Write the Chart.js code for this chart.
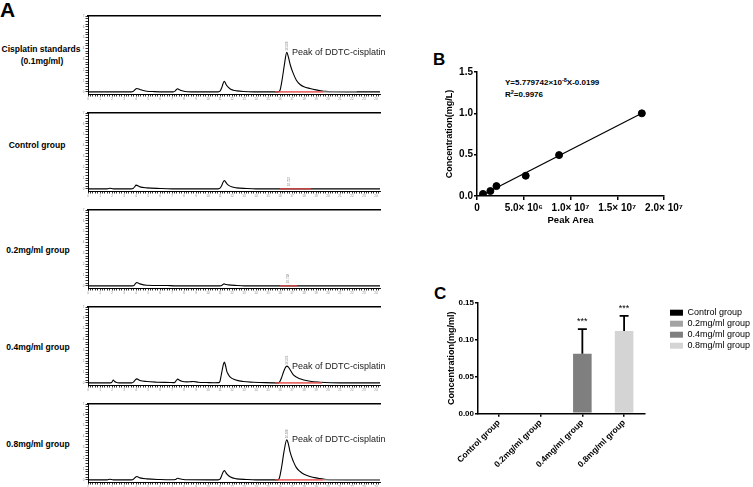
<!DOCTYPE html>
<html><head><meta charset="utf-8">
<script src="https://cdn.jsdelivr.net/npm/chart.js@4"></script>
<style>
html,body{margin:0;padding:0;background:#fff;width:753px;height:487px;overflow:hidden;font-family:Arial,"Liberation Sans",sans-serif;}
canvas{position:absolute;}
.lbl{position:absolute;font-weight:bold;color:#000;white-space:nowrap;line-height:1;}
.row{position:absolute;font-weight:bold;font-size:8.5px;line-height:1;color:#000;white-space:nowrap;text-align:center;width:120px;}
.eq{position:absolute;font-weight:bold;font-size:8px;line-height:1;color:#000;white-space:nowrap;}
.eq sup{font-size:5.5px;vertical-align:3px;line-height:0;}
</style></head><body>

<div class="lbl" style="left:0px;top:-1px;font-size:21px;">A</div>
<div class="lbl" style="left:433px;top:51px;font-size:17px;">B</div>
<div class="lbl" style="left:434px;top:285px;font-size:17px;">C</div>

<div class="row" style="left:-19px;top:45px;">Cisplatin standards</div>
<div class="row" style="left:-18px;top:57px;">(0.1mg/ml)</div>
<div class="row" style="left:-23px;top:141px;">Control group</div>
<div class="row" style="left:-22px;top:246px;">0.2mg/ml group</div>
<div class="row" style="left:-22px;top:343px;">0.4mg/ml group</div>
<div class="row" style="left:-22px;top:440px;">0.8mg/ml group</div>

<div class="eq" style="left:505px;top:79px;">Y=5.779742×10<sup>-8</sup>X-0.0199</div>
<div class="eq" style="left:505px;top:91px;">R<sup>2</sup>=0.9976</div>

<script>
Chart.defaults.font.family = 'Arial, "Liberation Sans", sans-serif';
Chart.defaults.color = '#000';

// ---------- Panel A: chromatograms (x: retention time, y: signal) ----------
const stdTrace = [[0,0],[1.5,0],[3.6,0],[3.78,0.06],[3.92,0.2],[4.06,0.31],[4.33,0.22],[4.6,0.13],[4.89,0.06],[5.5,0.02],[6.5,0],[7.1,0],[7.25,0.06],[7.36,0.2],[7.47,0.28],[7.6,0.2],[7.75,0.12],[8.08,0.03],[8.6,0],[10.85,0],[11.0,0.06],[11.14,0.37],[11.25,0.75],[11.36,0.98],[11.46,0.8],[11.56,0.58],[11.83,0.28],[12.1,0.15],[12.39,0.09],[12.94,0.03],[13.8,0],[15.85,0],[16.0,0.15],[16.2,1.3],[16.39,2.7],[16.56,3.66],[16.7,3.2],[16.85,2.5],[17.1,1.7],[17.35,1.1],[17.67,0.68],[18.0,0.47],[18.5,0.31],[19.0,0.18],[19.4,0.1],[19.8,0.04],[20.5,0.01],[21.5,0],[24.33,0]];
const ctrlTrace = [[0,0],[1.6,0],[1.83,0.06],[2.1,0],[3.6,0],[3.78,0.06],[3.9,0.2],[4.0,0.34],[4.33,0.18],[4.89,0.09],[6.0,0.03],[7.0,0],[10.85,0],[11.0,0.06],[11.14,0.31],[11.25,0.6],[11.36,0.77],[11.46,0.65],[11.56,0.49],[11.83,0.25],[12.39,0.09],[13.22,0.03],[14,0],[24.33,0]];
const g02Trace = [[0,0],[3.7,0],[3.83,0.03],[3.95,0.2],[4.06,0.31],[4.33,0.18],[4.89,0.06],[6.56,0.03],[7.2,0],[11.0,0],[11.14,0.03],[11.24,0.12],[11.33,0.18],[11.5,0.13],[11.69,0.09],[12.39,0.03],[13,0],[24.33,0]];
const g04Trace = [[0,0],[1.85,0],[1.97,0.03],[2.04,0.15],[2.11,0.25],[2.2,0.15],[2.33,0.06],[2.6,0],[3.65,0],[3.78,0.06],[3.92,0.25],[4.06,0.37],[4.33,0.22],[4.89,0.12],[5.72,0.06],[6.83,0.03],[7.1,0.02],[7.25,0.06],[7.36,0.22],[7.47,0.34],[7.62,0.24],[7.81,0.15],[8.22,0.09],[8.5,0.1],[8.78,0.12],[9.19,0.06],[9.89,0.03],[10.5,0.01],[10.9,0.02],[11.0,0.15],[11.1,0.7],[11.19,1.23],[11.28,1.7],[11.36,1.91],[11.46,1.6],[11.56,1.08],[11.68,0.8],[11.83,0.55],[12.25,0.28],[12.94,0.12],[13.78,0.06],[14.8,0.02],[15.85,0],[16.0,0.15],[16.15,0.55],[16.28,0.98],[16.42,1.35],[16.56,1.54],[16.7,1.45],[16.83,1.23],[17.11,0.74],[17.67,0.37],[18.5,0.15],[19.33,0.06],[20.2,0.01],[21,0],[24.33,0]];
const g08Trace = [[0,0],[1.6,0],[1.83,0.06],[2.1,0],[3.65,0],[3.78,0.06],[3.92,0.2],[4.06,0.31],[4.33,0.18],[4.89,0.09],[6.0,0.03],[7.0,0.01],[7.3,0.03],[7.38,0.1],[7.47,0.15],[7.62,0.1],[7.81,0.06],[8.3,0.01],[10.85,0],[11.0,0.06],[11.14,0.4],[11.25,0.7],[11.36,0.86],[11.46,0.72],[11.56,0.55],[11.83,0.28],[12.39,0.09],[13.22,0.03],[14,0],[15.8,0],[15.94,0.15],[16.14,1.23],[16.33,2.6],[16.56,3.69],[16.7,3.3],[16.83,2.6],[17.11,1.7],[17.35,1.15],[17.67,0.77],[18.0,0.52],[18.5,0.31],[19.0,0.18],[19.33,0.12],[19.9,0.03],[20.6,0.01],[21.5,0],[24.33,0]];

// integration baselines [start, end]
const stdRed = [15.58, 19.58], stdGrey = [19.58, 22.4];
const ctrlRed = [16.0, 18.58];
const g02Red = [16.0, 17.42];
const g04Red = [15.58, 19.5];
const g08Red = [15.58, 19.58], g08Grey = [19.58, 24.33];

// peak annotations: [retention time, peak top, rt text]
const stdPeak = [16.56, 3.66, '16.563'];
const ctrlPeak = [16.75, 0.1, '16.752'];
const g02Peak = [16.72, 0.1, '16.718'];
const g04Peak = [16.56, 1.54, '16.561'];
const g08Peak = [16.56, 3.69, '16.560'];
const peakLabel = 'Peak of DDTC-cisplatin';
const peakLabelX = 17.0;

const chromXMax = 24.33, chromYMin = -0.2, chromYMax = 7;
const chromXTicks = []; for (let k = 0; k <= 121; k++) chromXTicks.push(k / 5);
const chromYTicks = []; for (let k = 0; k <= 28; k++) chromYTicks.push(k / 4);

// ---------- Panel B: standard curve ----------
const stdArea = [0.64e6, 1.43e6, 2.08e6, 5.21e6, 8.78e6, 17.63e6];
const stdConc = [0.025, 0.06, 0.12, 0.245, 0.495, 1.0];
const fitArea = [0.4e6, 17.63e6];
const fitConc = [0.003, 1.0];
const bXTicks = [0, 5e6, 1e7, 1.5e7, 2e7];
const bXTickLabels = ['0', '5.0× 10⁶', '1.0× 10⁷', '1.5× 10⁷', '2.0× 10⁷'];
const bYTicks = [0, 0.5, 1.0, 1.5];

// ---------- Panel C: tissue concentration ----------
const groups = ['Control group', '0.2mg/ml group', '0.4mg/ml group', '0.8mg/ml group'];
const groupMean = [0, 0, 0.081, 0.112];
const groupSD = [0, 0, 0.0335, 0.0205];
const groupSig = ['', '', '***', '***'];
const groupColors = ['#000000', '#a3a3a3', '#7f7f7f', '#d4d4d4'];
const cYTicks = [0, 0.05, 0.10, 0.15];

function mkCanvas(left, top, w, h) {
  const c = document.createElement('canvas');
  c.width = w; c.height = h;
  c.style.left = left + 'px'; c.style.top = top + 'px';
  c.style.width = w + 'px'; c.style.height = h + 'px';
  document.body.appendChild(c);
  return c;
}

const peakNote = {
  id: 'peakNote',
  afterDatasetsDraw(chart) {
    const o = chart.config.options.peakInfo;
    if (!o) return;
    const xs = chart.scales.x, ys = chart.scales.y, ctx = chart.ctx;
    const px = xs.getPixelForValue(o.p[0]), py = ys.getPixelForValue(o.p[1]);
    ctx.save();
    ctx.translate(px, py - 1.5);
    ctx.rotate(-Math.PI / 2);
    ctx.font = '3px Arial, "Liberation Sans", sans-serif';
    ctx.fillStyle = '#777';
    ctx.textAlign = 'left'; ctx.textBaseline = 'middle';
    ctx.fillText(o.p[2], 0, 0);
    ctx.restore();
    if (o.label) {
      ctx.save();
      ctx.font = '9px Arial, "Liberation Sans", sans-serif';
      ctx.fillStyle = '#222';
      ctx.textAlign = 'left'; ctx.textBaseline = 'middle';
      ctx.fillText(peakLabel, xs.getPixelForValue(peakLabelX), py);
      ctx.restore();
    }
  }
};

function seg(r) { return [{x: r[0], y: 0}, {x: r[1], y: 0}]; }

function chrom(top, trace, red, grey, peak, label) {
  const c = mkCanvas(60, top - 6, 340, 96);
  const ds = [
    {data: trace.map(p => ({x: p[0], y: p[1]})), borderColor: '#000', borderWidth: 1.1, pointRadius: 0, cubicInterpolationMode: 'monotone', order: 2},
    {data: seg(red), borderColor: 'rgba(225,70,70,0.8)', borderWidth: 1.6, pointRadius: 0, order: 1}
  ];
  if (grey) ds.push({data: seg(grey), borderColor: 'rgba(150,150,150,0.75)', borderWidth: 1.6, pointRadius: 0, order: 1});
  new Chart(c, {
    type: 'line',
    data: {datasets: ds},
    plugins: [peakNote],
    options: {
      peakInfo: {p: peak, label: label},
      animation: false, responsive: false, events: [],
      layout: {padding: {top: 6, right: 20, left: 0, bottom: 0}},
      plugins: {legend: {display: false}, tooltip: {enabled: false}},
      scales: {
        x: {
          type: 'linear', min: 0, max: chromXMax,
          afterBuildTicks: s => { s.ticks = chromXTicks.map(v => ({value: v})); },
          afterFit: s => { s.height = 12; },
          ticks: {autoSkip: false, maxRotation: 0, minRotation: 0, font: {size: 3}, color: '#888', padding: 1,
                  callback: v => Math.abs(v - Math.round(v)) < 1e-6 ? String(Math.round(v)) : ''},
          grid: {drawOnChartArea: false, drawTicks: true, tickLength: 2.5, color: '#000', lineWidth: 0.8},
          border: {display: true, color: '#000', width: 1}
        },
        xTop: {
          type: 'linear', position: 'top', min: 0, max: chromXMax,
          afterFit: s => { s.height = 0; },
          ticks: {display: false},
          grid: {display: false},
          border: {display: true, color: '#000', width: 1.5}
        },
        y: {
          min: chromYMin, max: chromYMax,
          afterBuildTicks: s => { s.ticks = chromYTicks.map(v => ({value: v})); },
          afterFit: s => { s.width = 28; },
          ticks: {autoSkip: false, font: {size: 3}, color: '#888', padding: 1,
                  callback: v => Math.abs(v - Math.round(v)) < 1e-6 ? String(Math.round(v)) : ''},
          grid: {drawOnChartArea: false, drawTicks: true, tickLength: 2.5, color: '#000', lineWidth: 0.8},
          border: {display: true, color: '#000', width: 1}
        }
      }
    }
  });
}

chrom(16, stdTrace, stdRed, stdGrey, stdPeak, true);
chrom(113, ctrlTrace, ctrlRed, null, ctrlPeak, false);
chrom(210, g02Trace, g02Red, null, g02Peak, false);
chrom(307, g04Trace, g04Red, null, g04Peak, true);
chrom(404, g08Trace, g08Red, g08Grey, g08Peak, true);

// ---------- Panel B ----------
new Chart(mkCanvas(420, 60, 320, 180), {
  type: 'scatter',
  data: {datasets: [
    {type: 'line', data: fitArea.map((v, i) => ({x: v, y: fitConc[i]})), borderColor: '#000', borderWidth: 1.2, pointRadius: 0, order: 2},
    {data: stdArea.map((v, i) => ({x: v, y: stdConc[i]})), backgroundColor: '#000', borderColor: '#000', pointRadius: 3.5, order: 1}
  ]},
  options: {
    animation: false, responsive: false, events: [],
    layout: {padding: {top: 12, right: 76, left: 0, bottom: 0}},
    plugins: {legend: {display: false}, tooltip: {enabled: false}},
    scales: {
      x: {
        type: 'linear', min: 0, max: 2e7,
        afterBuildTicks: s => { s.ticks = bXTicks.map(v => ({value: v})); },
        afterFit: s => { s.height = 44; },
        ticks: {autoSkip: false, maxRotation: 0, minRotation: 0, font: {size: 10, weight: 'bold'}, color: '#000', padding: 2,
                callback: (v, i) => bXTickLabels[i]},
        grid: {drawOnChartArea: false, tickLength: 4, color: '#000', lineWidth: 1.5},
        border: {color: '#000', width: 1.5},
        title: {display: true, text: 'Peak Area', font: {size: 9.5, weight: 'bold'}, color: '#000', padding: {top: 0, bottom: 14}}
      },
      y: {
        min: 0, max: 1.5,
        afterBuildTicks: s => { s.ticks = bYTicks.map(v => ({value: v})); },
        afterFit: s => { s.width = 57; },
        ticks: {font: {size: 10, weight: 'bold'}, color: '#000', padding: 1, callback: v => v.toFixed(1)},
        grid: {drawOnChartArea: false, tickLength: 3, color: '#000', lineWidth: 1.5},
        border: {color: '#000', width: 1.5},
        title: {display: true, text: 'Concentration(mg/L)', font: {size: 9, weight: 'bold'}, color: '#000', padding: {top: 24.6, bottom: 0}}
      }
    }
  }
});

// ---------- Panel C ----------
const errBars = {
  id: 'errBars',
  afterDatasetsDraw(chart) {
    const meta = chart.getDatasetMeta(0), ys = chart.scales.y, ctx = chart.ctx;
    meta.data.forEach((bar, i) => {
      if (!groupSD[i]) return;
      const base = ys.getPixelForValue(groupMean[i]);
      const top = ys.getPixelForValue(groupMean[i] + groupSD[i]);
      ctx.save();
      ctx.strokeStyle = '#000'; ctx.lineWidth = 1.8;
      ctx.beginPath();
      ctx.moveTo(bar.x, base); ctx.lineTo(bar.x, top);
      ctx.moveTo(bar.x - 4.5, top); ctx.lineTo(bar.x + 4.5, top);
      ctx.stroke();
      if (groupSig[i]) {
        ctx.fillStyle = '#000';
        ctx.font = '9px Arial, "Liberation Sans", sans-serif';
        ctx.textAlign = 'center'; ctx.textBaseline = 'middle';
        ctx.fillText(groupSig[i], bar.x, top - 7.5);
      }
      ctx.restore();
    });
  }
};

new Chart(mkCanvas(420, 280, 340, 207), {
  type: 'bar',
  data: {labels: groups, datasets: [{data: groupMean, backgroundColor: groupColors, borderWidth: 0, barPercentage: 0.445, categoryPercentage: 1}]},
  plugins: [errBars],
  options: {
    animation: false, responsive: false, events: [],
    layout: {padding: {top: 23, right: 0, left: 0, bottom: 0}},
    plugins: {
      tooltip: {enabled: false},
      legend: {
        display: true, position: 'right', align: 'start', maxWidth: 150,
        title: {display: true, text: ' ', font: {size: 1}, padding: 1},
        labels: {
          boxWidth: 13, boxHeight: 6, padding: 2, color: '#333', font: {size: 9},
          generateLabels: () => groups.map((g, i) => ({text: g, fillStyle: groupColors[i], strokeStyle: groupColors[i], lineWidth: 0, hidden: false, index: i}))
        }
      }
    },
    scales: {
      x: {
        afterFit: s => { s.height = 73.7; },
        ticks: {autoSkip: false, maxRotation: 45, minRotation: 45, font: {size: 8.5, weight: 'bold'}, color: '#000', padding: 1},
        grid: {drawOnChartArea: false, offset: false, tickLength: 3.5, color: '#000', lineWidth: 1.5},
        border: {color: '#000', width: 1.5}
      },
      y: {
        min: 0, max: 0.15,
        afterBuildTicks: s => { s.ticks = cYTicks.map(v => ({value: v})); },
        afterFit: s => { s.width = 58; },
        ticks: {font: {size: 8, weight: 'bold'}, color: '#000', padding: 1, callback: v => v.toFixed(2)},
        grid: {drawOnChartArea: false, tickLength: 3, color: '#000', lineWidth: 1.5},
        border: {color: '#000', width: 1.5},
        title: {display: true, text: 'Concentration(mg/ml)', font: {size: 9, weight: 'bold'}, color: '#000', padding: {top: 26.6, bottom: 0}}
      },
      yPad: {
        position: 'right', min: 0, max: 1,
        afterFit: s => { s.width = 23; },
        ticks: {display: false}, grid: {display: false}, border: {display: false}
      }
    }
  }
});
</script>
</body></html>
